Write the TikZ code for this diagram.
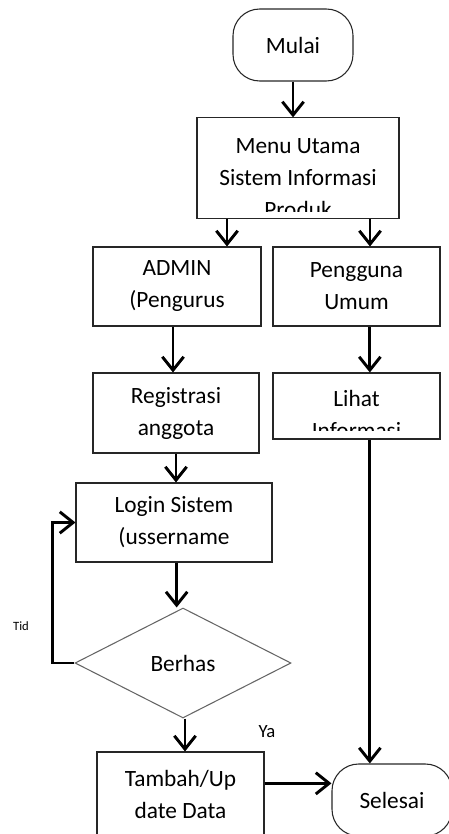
\documentclass[tikz,border=0pt]{standalone}
\usepackage{fontspec}
\setmainfont{Carlito}
\usetikzlibrary{shapes.geometric,arrows.meta}

\begin{document}
\begin{tikzpicture}[x = 0.75pt, y = -0.75pt,
box/.style = {draw = black!85, line width = 0.8pt, shape = rectangle, align = center, inner sep = 0pt, font = \fontsize{17.5}{24}\selectfont},
ends/.style = {box, rounded corners = 20pt, minimum width = 90pt, minimum height = 54pt},
cond/.style = {draw = black!60, line width = 0.8pt, shape = diamond, inner sep = 0pt, minimum width = 162pt, minimum height = 82.5pt, font = \fontsize{17.5}{24}\selectfont},
arrow/.style = {line width = 2.2pt, -{Straight Barb[length = 10pt, width = 16pt]}}]
\useasboundingbox (0,0) rectangle (449,834);
\clip (0,0) rectangle (449,834);
\node[ends] (mulai) at (293,45) {Mulai};
\node[box, minimum width = 151.5pt, minimum height = 75pt] (menu) at (298,168) {\rule{0pt}{27pt}Menu Utama\\Sistem Informasi\\Produk};
\node[box, minimum width = 126pt, minimum height = 59.25pt] (admin) at (177,286.5) {ADMIN\\(Pengurus};
\node[box, minimum width = 125.25pt, minimum height = 59.25pt] (pengguna) at (356.5,286.5) {Pengguna\\Umum};
\node[box, minimum width = 124.5pt, minimum height = 60pt] (registrasi) at (176,413) {Registrasi\\anggota};
\node[box, minimum width = 125.25pt, minimum height = 49.5pt] (lihat) at (356.5,406) {\rule{0pt}{25pt}Lihat\\Informasi};
\node[box, minimum width = 147pt, minimum height = 59.25pt] (login) at (174,522.5) {Login Sistem\\(ussername};
\node[cond] (cek) at (183,663) {Berhas};
\node[box, minimum width = 125.25pt, minimum height = 63pt] (tambah) at (180.5,794) {Tambah/Up\\date Data};
\node[ends] (selesai) at (392,800) {Selesai};
\fill[white] ([xshift=1.2pt, yshift=5.25pt]menu.south west) rectangle ([xshift=-1.2pt, yshift=0.8pt]menu.south east);
\fill[white] ([xshift=1.2pt, yshift=6.75pt]lihat.south west) rectangle ([xshift=-1.2pt, yshift=0.8pt]lihat.south east);
\draw[arrow] (mulai.south) -- (mulai.south |- menu.north);
\draw[arrow] ([xshift=-53.25pt]menu.south) -- ([xshift=-53.25pt]menu.south |- admin.north);
\draw[arrow] ([xshift=54pt]menu.south) -- ([xshift=54pt]menu.south |- pengguna.north);
\draw[arrow] ([xshift=-3pt]admin.south) -- ([xshift=-3pt]admin.south |- registrasi.north);
\draw[arrow] ([xshift=10pt]pengguna.south) -- ([xshift=10pt]pengguna.south |- lihat.north);
\draw[arrow] (registrasi.south) -- (registrasi.south |- login.north);
\draw[arrow] ([xshift=10pt]lihat.south) -- ([xshift=10pt]lihat.south |- selesai.north);
\draw[arrow] ([xshift=2pt]login.south) -- ([xshift=2pt]login.south |- cek.north);
\draw[arrow] (cek.west) -| ([xshift=-17pt]login.west) -- (login.west);
\draw[arrow] ([xshift=1.5pt]cek.south) -- ([xshift=1.5pt]cek.south |- tambah.north);
\draw[arrow] ([yshift=8pt]tambah.east) -- ([yshift=8pt]tambah.east -| selesai.west);
\node[font = \fontsize{9.5}{11}\selectfont] (tid) at (21,626) {Tid};
\node[font = \fontsize{14}{16}\selectfont] (ya) at (267,732) {Ya};
\end{tikzpicture}
\end{document}
